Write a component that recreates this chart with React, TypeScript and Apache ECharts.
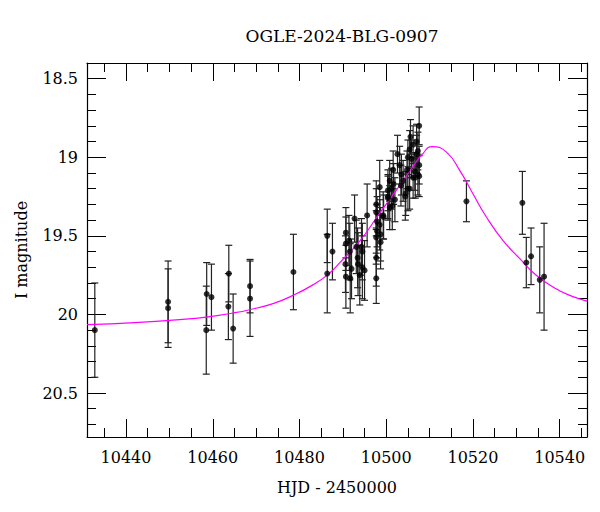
import React, { useEffect, useRef } from "react";
import * as echarts from "echarts";

// Observations: HJD - 2450000, I magnitude, error
const hjd = [
  10432.8, 10449.7, 10449.7, 10458.6, 10458.5, 10459.7, 10463.7, 10463.6, 10464.7, 10468.6, 10468.6,
  10478.6, 10486.4, 10486.4, 10487.6,
  10490.7, 10490.7, 10490.6, 10490.7, 10491.4, 10491.6, 10491.7, 10492.0, 10492.7, 10493.1, 10493.4,
  10493.5, 10493.9, 10494.3, 10494.5, 10494.5, 10495.0, 10495.6, 10497.7, 10497.7, 10497.9, 10497.9,
  10497.7, 10497.7, 10497.7, 10498.5, 10498.5, 10498.7, 10498.7, 10499.3, 10499.4, 10500.4, 10500.4,
  10500.4, 10500.8, 10500.8, 10501.2, 10501.4, 10501.6, 10501.7, 10502.0, 10502.6, 10503.1, 10503.4,
  10503.5, 10503.9, 10504.4, 10504.5, 10504.8, 10505.0, 10505.0, 10505.4, 10505.4, 10505.6, 10505.8,
  10506.2, 10506.2, 10506.6, 10506.7, 10507.0, 10507.0, 10507.3, 10507.3, 10507.6, 10507.6, 10507.6,
  10518.5, 10531.4, 10532.3, 10533.4, 10535.4, 10536.4,
];
const mag = [
  20.10, 19.92, 19.96, 19.87, 20.10, 19.89, 19.74, 19.95, 20.09, 19.82, 19.90,
  19.73, 19.50, 19.74, 19.60,
  19.48, 19.55, 19.68, 19.76, 19.53, 19.60, 19.77, 19.71, 19.39, 19.57, 19.64,
  19.68, 19.75, 19.57, 19.60, 19.70, 19.72, 19.37, 19.30, 19.35, 19.41, 19.47,
  19.51, 19.64, 19.77, 19.19, 19.43, 19.49, 19.54, 19.37, 19.38, 19.21, 19.26,
  19.25, 19.15, 19.32, 19.20, 19.31, 19.08, 19.17, 19.27, 18.98, 19.05, 19.18,
  19.11, 19.15, 19.25, 19.23, 19.08, 19.00, 19.20, 19.20, 18.95, 18.87, 19.01,
  18.92, 19.13, 19.09, 19.13, 18.98, 18.90, 18.96, 19.11, 18.80, 19.05, 19.12,
  19.28, 19.29, 19.67, 19.63, 19.78, 19.76,
];
const magErr = [
  0.30, 0.26, 0.25, 0.20, 0.28, 0.21, 0.18, 0.21, 0.22, 0.17, 0.24,
  0.24, 0.17, 0.25, 0.18,
  0.16, 0.17, 0.18, 0.20, 0.16, 0.18, 0.22, 0.19, 0.15, 0.17, 0.19,
  0.20, 0.19, 0.18, 0.18, 0.20, 0.19, 0.20, 0.15, 0.15, 0.16, 0.17,
  0.17, 0.18, 0.16, 0.17, 0.16, 0.17, 0.17, 0.15, 0.14, 0.13, 0.14,
  0.14, 0.13, 0.14, 0.13, 0.15, 0.12, 0.13, 0.14, 0.12, 0.12, 0.13,
  0.13, 0.13, 0.15, 0.14, 0.12, 0.11, 0.14, 0.13, 0.12, 0.11, 0.12,
  0.12, 0.13, 0.12, 0.13, 0.12, 0.11, 0.12, 0.13, 0.12, 0.12, 0.13,
  0.13, 0.20, 0.16, 0.18, 0.21, 0.34,
];

// Model light curve
const modelHjd = [
  10431.0, 10442.0, 10452.4, 10458.5, 10464.7, 10468.5, 10473.9, 10478.5, 10483.1, 10486.6,
  10489.3, 10493.9, 10498.5, 10503.1, 10506.0, 10508.2, 10510.6, 10513.9, 10516.95, 10520.0,
  10523.1, 10526.9, 10530.8, 10534.6, 10538.5, 10542.3, 10546.3,
];
const modelMag = [
  20.065, 20.052, 20.033, 20.017, 19.991, 19.97, 19.931, 19.879, 19.812, 19.745,
  19.67, 19.533, 19.355, 19.18, 19.065, 18.985, 18.932, 18.967, 19.083, 19.232,
  19.38, 19.529, 19.645, 19.751, 19.826, 19.879, 19.915,
];

const xMajorTicks = [10440, 10460, 10480, 10500, 10520, 10540];
const xMinorTicks = [
  10435, 10445, 10450, 10455, 10465, 10470, 10475, 10485, 10490, 10495, 10505, 10510, 10515,
  10525, 10530, 10535, 10545,
];
const yMajorTicks = [18.5, 19, 19.5, 20, 20.5];
const yMinorTicks = [
  18.6, 18.7, 18.8, 18.9, 19.1, 19.2, 19.3, 19.4, 19.6, 19.7, 19.8, 19.9, 20.1, 20.2, 20.3, 20.4,
  20.6, 20.7,
];

const X_MIN = 10431;
const X_MAX = 10546.3;
const Y_MIN = 18.4;
const Y_MAX = 20.78;

const FONT = "DejaVu Serif";

export default function App() {
  const ref = useRef<HTMLDivElement>(null);
  useEffect(() => {
    document.body.style.margin = "0";
    if (!ref.current) return;
    const chart = echarts.init(ref.current, undefined, { renderer: "svg" });

    const tickLine = { color: "#000", width: 1 };
    const mkX = (pos: "top" | "bottom", major: boolean, main = false): any => ({
      type: "value",
      min: X_MIN,
      max: X_MAX,
      position: pos,
      axisLine: { show: major, onZero: false, lineStyle: { color: "#000", width: 1.2 } },
      axisTick: {
        show: true,
        inside: true,
        length: major ? 18 : 9,
        customValues: major ? xMajorTicks : xMinorTicks,
        lineStyle: tickLine,
      },
      axisLabel: main
        ? {
            show: true,
            customValues: xMajorTicks,
            formatter: (v: number) => String(v),
            fontFamily: FONT,
            fontSize: 16,
            color: "#000",
            margin: 12,
          }
        : { show: false },
      splitLine: { show: false },
      ...(main
        ? {
            name: "HJD - 2450000",
            nameLocation: "middle",
            nameGap: 42,
            nameTextStyle: { fontFamily: FONT, fontSize: 16, color: "#000" },
          }
        : {}),
    });
    const mkY = (pos: "left" | "right", major: boolean, main = false): any => ({
      type: "value",
      min: Y_MIN,
      max: Y_MAX,
      inverse: true,
      position: pos,
      axisLine: { show: major, onZero: false, lineStyle: { color: "#000", width: 1.2 } },
      axisTick: {
        show: true,
        inside: true,
        length: major ? 19 : 9,
        customValues: major ? yMajorTicks : yMinorTicks,
        lineStyle: tickLine,
      },
      axisLabel: main
        ? {
            show: true,
            customValues: yMajorTicks,
            formatter: (v: number) => String(v),
            fontFamily: FONT,
            fontSize: 16,
            color: "#000",
            margin: 9,
          }
        : { show: false },
      splitLine: { show: false },
      ...(main
        ? {
            name: "I magnitude",
            nameLocation: "middle",
            nameGap: 58,
            nameRotate: 90,
            nameTextStyle: { fontFamily: FONT, fontSize: 16, color: "#000" },
          }
        : {}),
    });

    const obs = hjd.map((x, i) => [x, mag[i], magErr[i]]);
    const model = modelHjd.map((x, i) => [x, modelMag[i]]);

    chart.setOption({
      animation: false,
      backgroundColor: "#fff",
      title: {
        text: "OGLE-2024-BLG-0907",
        left: 337,
        top: 22,
        textAlign: "center",
        textStyle: { fontFamily: FONT, fontSize: 17, fontWeight: "normal", color: "#000" },
      },
      grid: { left: 87, right: 13, top: 63, bottom: 75, containLabel: false },
      xAxis: [mkX("bottom", true, true), mkX("bottom", false), mkX("top", true), mkX("top", false)],
      yAxis: [mkY("left", true, true), mkY("left", false), mkY("right", true), mkY("right", false)],
      series: [
        {
          type: "custom",
          xAxisIndex: 0,
          yAxisIndex: 0,
          clip: true,
          z: 2,
          data: obs,
          encode: { x: 0, y: 1 },
          renderItem: (params: any, api: any) => {
            const x = api.value(0);
            const y = api.value(1);
            const e = api.value(2);
            const t = api.coord([x, y - e]);
            const b = api.coord([x, y + e]);
            const hw = 3.5;
            const st = { stroke: "#222", lineWidth: 1.2 };
            return {
              type: "group",
              children: [
                { type: "line", shape: { x1: t[0], y1: t[1], x2: b[0], y2: b[1] }, style: st },
                { type: "line", shape: { x1: t[0] - hw, y1: t[1], x2: t[0] + hw, y2: t[1] }, style: st },
                { type: "line", shape: { x1: b[0] - hw, y1: b[1], x2: b[0] + hw, y2: b[1] }, style: st },
              ],
            };
          },
        },
        {
          type: "line",
          xAxisIndex: 0,
          yAxisIndex: 0,
          data: model,
          smooth: 0.5,
          showSymbol: false,
          z: 3,
          lineStyle: { color: "#ff00ff", width: 1.2 },
        },
        {
          type: "scatter",
          xAxisIndex: 0,
          yAxisIndex: 0,
          data: obs.map((d) => [d[0], d[1]]),
          symbol: "circle",
          symbolSize: 6,
          z: 4,
          itemStyle: { color: "#000" },
        },
      ],
    });
    return () => chart.dispose();
  }, []);
  return <div ref={ref} style={{ width: 600, height: 512 }} />;
}
